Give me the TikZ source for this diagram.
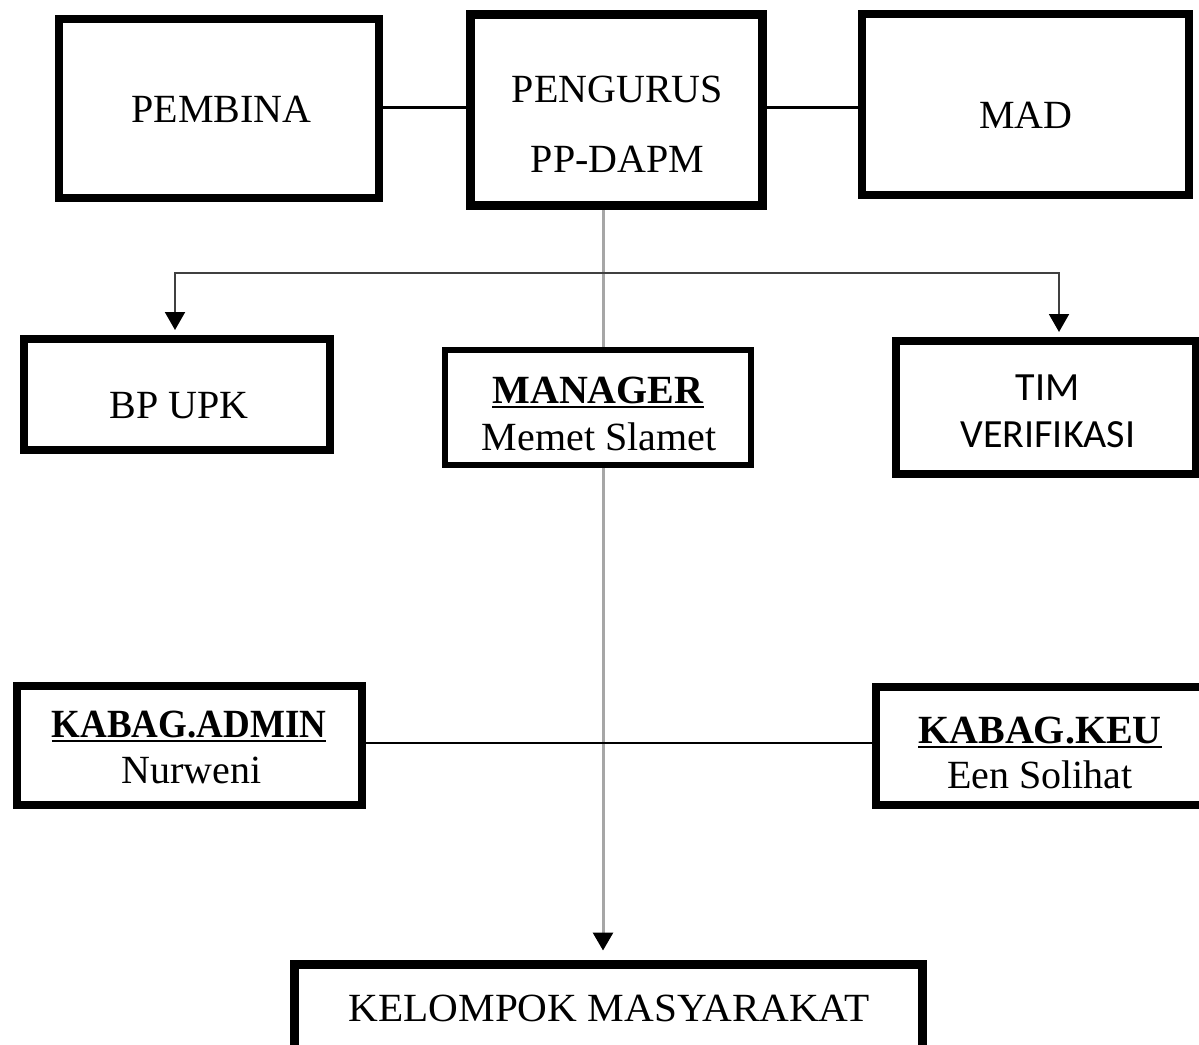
\documentclass[tikz,border=0pt]{standalone}
\usepackage{fontspec}
\setmainfont{Liberation Serif}
\newfontfamily\calfont{Carlito}
\usetikzlibrary{arrows.meta}
\pgfdeclarelayer{background}
\pgfsetlayers{background,main}
\newcommand\ulbox[1]{\setbox0\hbox{#1}\rlap{\rule[-5pt]{\wd0}{2.5pt}}\box0}
\tikzset{
  box/.style={draw=black, fill=white, line width=8pt, inner sep=0pt},
  txt/.style={anchor=base, inner sep=0pt, font=\fontsize{40}{48}\selectfont},
  link/.style={draw=black, line width=3pt},
  branch/.style={draw=black!75, line width=2pt, {Triangle[width=20pt,length=18pt,black]}-{Triangle[width=20pt,length=18pt,black]}, shorten <=5pt, shorten >=5pt},
  spine/.style={draw=black!35, line width=3pt, -{Triangle[width=20pt,length=18pt,black]}, shorten >=9.5pt},
}
\begin{document}
\begin{tikzpicture}[x=1pt,y=-1pt]
\useasboundingbox (0,0) rectangle (1199,1044);
% boxes
\node[box, minimum width=320pt, minimum height=179pt] (pembina) at (219,108.5) {};
\node[box, line width=9pt, minimum width=292pt, minimum height=191pt] (pengurus) at (616.5,110) {};
\node[box, minimum width=327pt, minimum height=181pt] (mad) at (1025.5,104.5) {};
\node[box, minimum width=306pt, minimum height=111pt] (bpupk) at (177,394.5) {};
\node[box, line width=6pt, minimum width=306pt, minimum height=115pt] (manager) at (598,407.5) {};
\node[box, minimum width=300pt, minimum height=133pt] (tim) at (1046,407.5) {};
\node[box, minimum width=345pt, minimum height=119pt] (kadmin) at (189.5,745.5) {};
\node[box, minimum width=330pt, minimum height=118pt] (kkeu) at (1041,746) {};
\node[box, line width=9pt, minimum width=628pt, minimum height=86pt] (kelompok) at (608.5,1007.5) {};
% texts
\node[txt] (t-pembina) at (221.5,122) {PEMBINA};
\node[txt] (t-pengurus1) at (617.5,102) {PENGURUS};
\node[txt] (t-pengurus2) at (617.5,172) {PP-DAPM};
\node[txt] (t-mad) at (1026,128) {MAD};
\node[txt] (t-bpupk) at (179,418) {BP UPK};
\node[txt] (t-manager1) at (598,403) {\ulbox{\bfseries MANAGER}};
\node[txt] (t-manager2) at (599,450) {Memet Slamet};
\node[txt, font=\calfont\fontsize{40}{48}\selectfont] (t-tim1) at (1047.5,400) {TIM};
\node[txt, font=\calfont\fontsize{40}{48}\selectfont] (t-tim2) at (1048,447) {VERIFIKASI};
\node[txt] (t-kadmin1) at (189,737) {\ulbox{\scalebox{0.925}[1]{\bfseries KABAG.ADMIN}}};
\node[txt] (t-kadmin2) at (191.5,783) {Nurweni};
\node[txt] (t-kkeu1) at (1040,743) {\ulbox{\bfseries KABAG.KEU}};
\node[txt] (t-kkeu2) at (1040,788) {Een Solihat};
\node[txt] (t-kelompok) at (609,1021) {\scalebox{1.03}[1]{KELOMPOK MASYARAKAT}};
% helper coordinates
\coordinate (topline) at (0,107);
\coordinate (spinex) at (603,0);
\coordinate (bl) at (175,273);
\coordinate (br) at (1059,273);
\coordinate (kline) at (0,743);
% connectors
\begin{pgfonlayer}{background}
\draw[spine] (pengurus.south -| spinex) -- (kelompok.north -| spinex);
\draw[link] (pembina.east |- topline) -- (pengurus.west |- topline);
\draw[link] (pengurus.east |- topline) -- (mad.west |- topline);
\draw[branch] (bpupk.north -| bl) -- (bl) -- (br) -- (tim.north -| br);
\draw[link, line width=2pt] (kadmin.east |- kline) -- (kkeu.west |- kline);
\end{pgfonlayer}
\end{tikzpicture}
\end{document}
